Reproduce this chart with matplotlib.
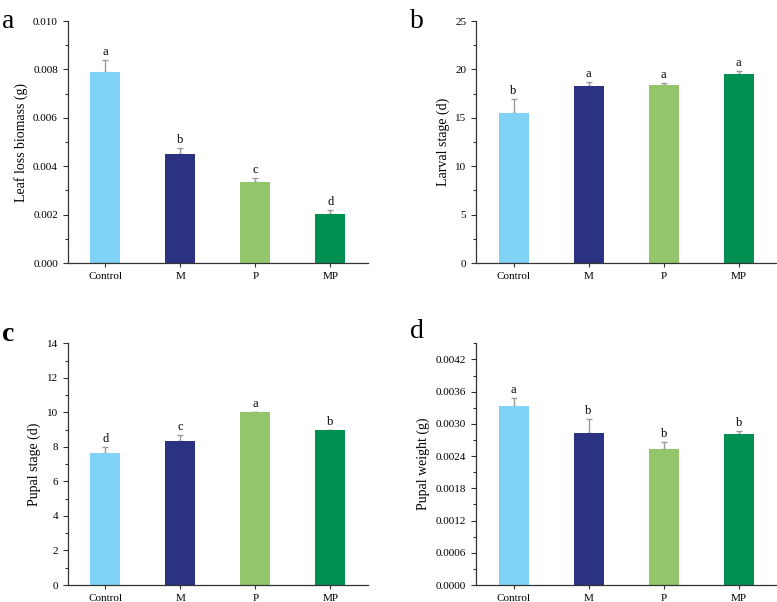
import numpy as np
import matplotlib.pyplot as plt
from matplotlib.ticker import MultipleLocator, FormatStrFormatter

plt.rcParams['font.family'] = ['Liberation Serif', 'DejaVu Serif']

# Данные
groups = ['Control', 'M', 'P', 'MP']
colors = ['#80D3F6', '#2B3282', '#93C66B', '#009051']

leaf_loss = [0.0079, 0.00449, 0.00333, 0.00204]
leaf_loss_err = [0.0005, 0.00027, 0.00017, 0.00014]
leaf_loss_sig = ['a', 'b', 'c', 'd']

larval = [15.46, 18.32, 18.35, 19.56]
larval_err = [1.5, 0.35, 0.25, 0.25]
larval_sig = ['b', 'a', 'a', 'a']

pupal_stage = [7.66, 8.34, 10.0, 9.0]
pupal_stage_err = [0.33, 0.35, 0.0, 0.0]
pupal_stage_sig = ['d', 'c', 'a', 'b']

pupal_weight = [0.003325, 0.002834, 0.002525, 0.002804]
pupal_weight_err = [0.00015, 0.00026, 0.00013, 0.00006]
pupal_weight_sig = ['a', 'b', 'b', 'b']


def draw_panel(ax, values, errs, sig, ylabel, ymax, major, minor, fmt):
    x = np.arange(len(groups))
    ax.bar(x, values, width=0.4, color=colors, zorder=2)
    ax.errorbar(x, values, yerr=[np.zeros(len(errs)), errs], fmt='none',
                ecolor='#9a9a9a', elinewidth=1, capsize=2.5, capthick=1, zorder=1)
    for xi, v, e, s in zip(x, values, errs, sig):
        ax.annotate(s, (xi, v + e), xytext=(0, 1.5), textcoords='offset points',
                    ha='center', va='bottom', fontsize=9)
    ax.set_xlim(-0.5, 3.5)
    ax.set_ylim(0, ymax)
    ax.set_xticks(x)
    ax.set_xticklabels(groups, fontsize=8)
    ax.yaxis.set_major_locator(MultipleLocator(major))
    ax.yaxis.set_minor_locator(MultipleLocator(minor))
    ax.yaxis.set_major_formatter(FormatStrFormatter(fmt))
    ax.tick_params(axis='y', labelsize=8, length=3.5, width=0.8, color='#333333')
    ax.tick_params(axis='y', which='minor', length=2, width=0.8, color='#333333')
    ax.tick_params(axis='x', length=3, width=0.8, color='#333333')
    ax.set_ylabel(ylabel, fontsize=10)
    for side in ['top', 'right']:
        ax.spines[side].set_visible(False)
    for side in ['left', 'bottom']:
        ax.spines[side].set_linewidth(0.9)
        ax.spines[side].set_color('#333333')


fig = plt.figure(figsize=(7.77, 6.02), dpi=100)
ax_a = fig.add_axes([0.0871, 0.5631, 0.3865, 0.402])
ax_b = fig.add_axes([0.6126, 0.5631, 0.3865, 0.402])
ax_c = fig.add_axes([0.0871, 0.0282, 0.3865, 0.4015])
ax_d = fig.add_axes([0.6126, 0.0282, 0.3865, 0.4015])

draw_panel(ax_a, leaf_loss, leaf_loss_err, leaf_loss_sig, 'Leaf loss biomass (g)',
           0.010, 0.002, 0.001, '%.3f')
draw_panel(ax_b, larval, larval_err, larval_sig, 'Larval stage (d)',
           25, 5, 2.5, '%d')
draw_panel(ax_c, pupal_stage, pupal_stage_err, pupal_stage_sig, 'Pupal stage (d)',
           14, 2, 1, '%d')
draw_panel(ax_d, pupal_weight, pupal_weight_err, pupal_weight_sig, 'Pupal weight (g)',
           0.0045, 0.0006, 0.0003, '%.4f')

# Подписи панелей
fig.text(0.003, 0.965, 'a', fontsize=20, va='center')
fig.text(0.528, 0.965, 'b', fontsize=20, va='center')
fig.text(0.003, 0.445, 'c', fontsize=20, va='center', fontweight='bold')
fig.text(0.528, 0.45, 'd', fontsize=20, va='center')

fig.savefig('out.png', dpi=100)
